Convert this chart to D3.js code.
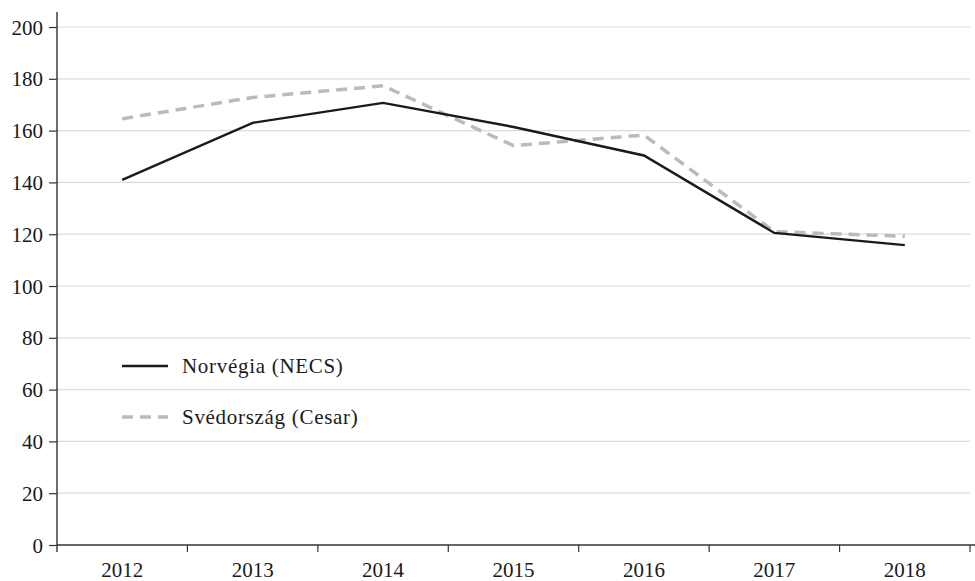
<!DOCTYPE html>
<html>
<head>
<meta charset="utf-8">
<script src="https://cdn.jsdelivr.net/npm/d3@7"></script>
<style>
body { margin: 0; background: #fff; }
svg text { font-family: "Liberation Serif", serif; fill: #1a1a1a; }
</style>
</head>
<body>
<div id="chart"></div>
<script>
// evek es ertekek
var years = ["2012", "2013", "2014", "2015", "2016", "2017", "2018"];
var norvegia = [141, 163, 170.7, 161.4, 150.4, 120.5, 115.8];
var svedorszag = [164.6, 172.8, 177.3, 154.2, 158.3, 121, 119.2];
var yTicks = [0, 20, 40, 60, 80, 100, 120, 140, 160, 180, 200];
var seriesNames = ["Norvégia (NECS)", "Svédország (Cesar)"];

var width = 975, height = 581;
var mLeft = 57, mRight = 970, mBottom = 545, mTop = 12;

var svg = d3.select("#chart").append("svg")
  .attr("width", width)
  .attr("height", height);

var x = d3.scaleBand().domain(years).range([mLeft, mRight]);
var y = d3.scaleLinear().domain([0, 205.8]).range([mBottom, mTop]);

// racsvonalak
svg.append("g")
  .selectAll("line")
  .data(yTicks.filter(d => d > 0))
  .enter().append("line")
  .attr("x1", mLeft)
  .attr("x2", mRight)
  .attr("y1", d => y(d))
  .attr("y2", d => y(d))
  .style("stroke", "#dcdcdc")
  .style("stroke-width", 1.2);

// y tengely
var yAxis = svg.append("g")
  .attr("transform", "translate(" + mLeft + ",0)")
  .call(d3.axisLeft(y).tickValues(yTicks).tickSize(8).tickSizeOuter(0).tickPadding(6));
yAxis.select(".domain").remove();
yAxis.selectAll("line").style("stroke", "#333").style("stroke-width", 1.2);
yAxis.selectAll("text").style("font-size", "21px").style("fill", "#1a1a1a").attr("dy", "0.34em");
svg.append("line")
  .attr("x1", mLeft).attr("x2", mLeft)
  .attr("y1", mTop).attr("y2", mBottom + 7)
  .style("stroke", "#333").style("stroke-width", 1.4);

// x tengely
var xAxis = svg.append("g")
  .attr("transform", "translate(0," + mBottom + ")")
  .call(d3.axisBottom(x).tickSize(0).tickPadding(17));
xAxis.select(".domain").remove();
xAxis.selectAll("text").style("font-size", "21px").style("fill", "#1a1a1a");
svg.append("line")
  .attr("x1", mLeft).attr("x2", width)
  .attr("y1", mBottom).attr("y2", mBottom)
  .style("stroke", "#333").style("stroke-width", 1.4);
var bounds = years.map(d => x(d)).concat([x.range()[1]]).slice(1);
svg.append("g")
  .selectAll("line")
  .data(bounds)
  .enter().append("line")
  .attr("x1", d => d).attr("x2", d => d)
  .attr("y1", mBottom).attr("y2", mBottom + 7)
  .style("stroke", "#333").style("stroke-width", 1.2);

var line = d3.line()
  .x((d, i) => x(years[i]) + x.bandwidth() / 2)
  .y(d => y(d));

svg.append("path")
  .datum(svedorszag)
  .attr("d", line)
  .style("fill", "none")
  .style("stroke", "#bbbbbb")
  .style("stroke-width", 3.5)
  .style("stroke-dasharray", "11,7");

svg.append("path")
  .datum(norvegia)
  .attr("d", line)
  .style("fill", "none")
  .style("stroke", "#1a1a1a")
  .style("stroke-width", 2.4);

// jelmagyarazat
var legend = svg.append("g");
var styles = [
  {stroke: "#1a1a1a", w: 2.4, dash: null},
  {stroke: "#bbbbbb", w: 3.5, dash: "11,7"}
];
seriesNames.forEach(function(name, i) {
  var ly = 366 + i * 51;
  legend.append("line")
    .attr("x1", 122).attr("x2", 168)
    .attr("y1", ly).attr("y2", ly)
    .style("stroke", styles[i].stroke)
    .style("stroke-width", styles[i].w)
    .style("stroke-dasharray", styles[i].dash);
  legend.append("text")
    .attr("x", 182)
    .attr("y", ly + 7)
    .style("font-size", "21px")
    .style("letter-spacing", "0.7px")
    .text(name);
});
</script>
</body>
</html>
